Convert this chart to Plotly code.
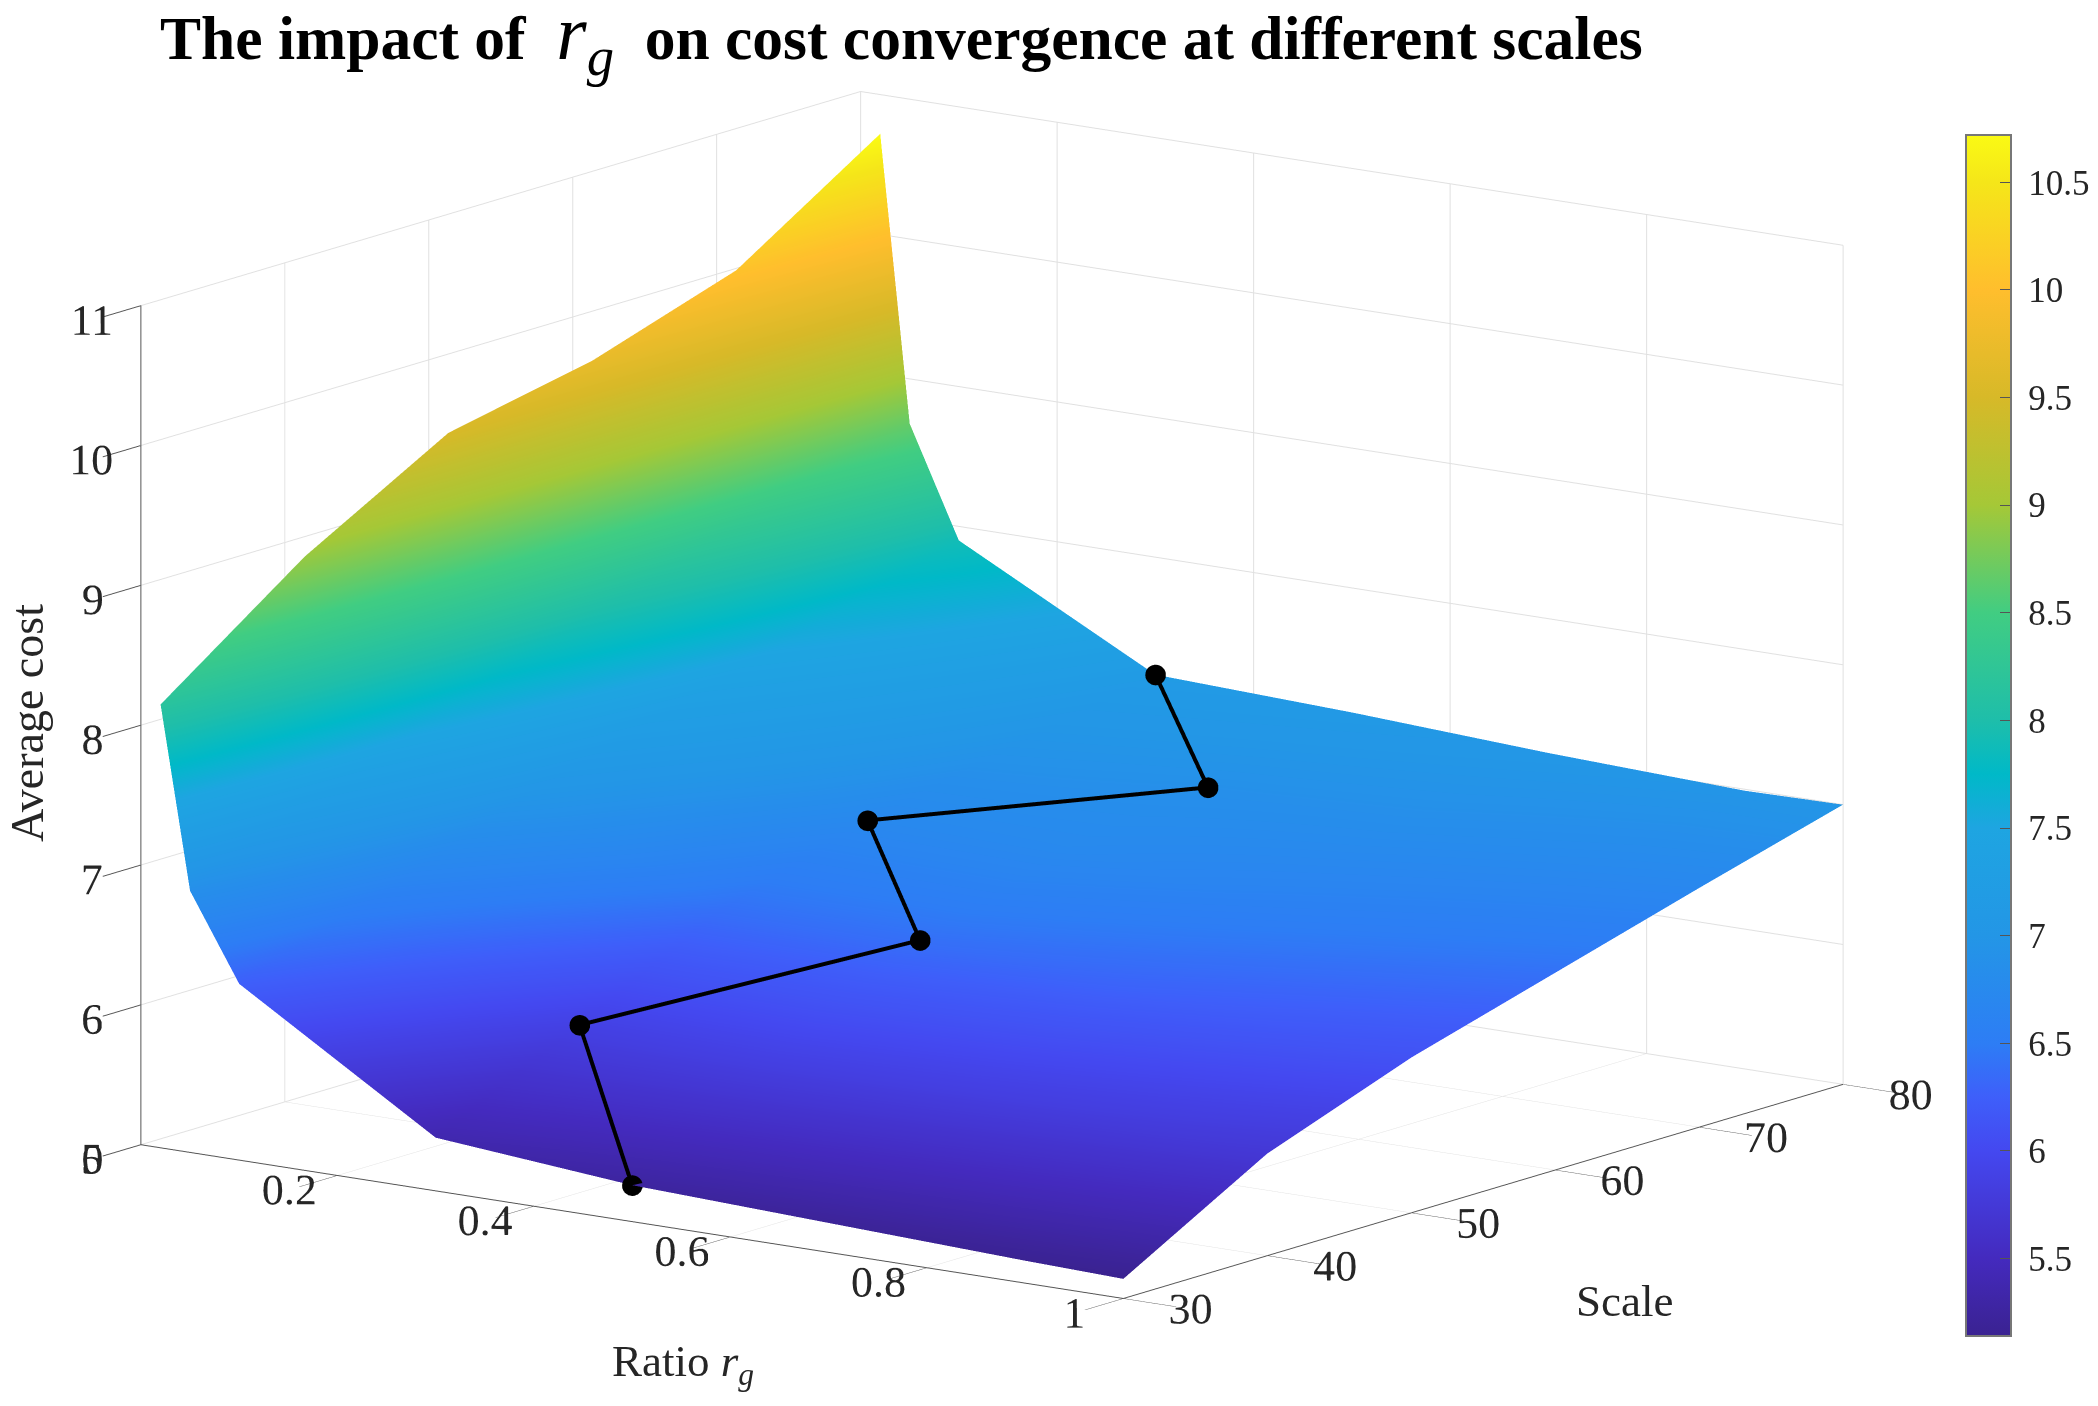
# Average cost surface over ratio r_g and scale
import plotly.graph_objects as go

ratio = [0.02, 0.05, 0.1, 0.3, 0.5, 0.7, 0.9, 1.0]
scale = [30, 40, 50, 60, 70, 80]

# rows follow scale, columns follow ratio
cost = [
    [8.17, 6.87, 6.26, 5.38, 5.26, 5.21, 5.16, 5.14],
    [8.92, 7.30, 6.60, 5.88, 5.90, 5.85, 5.78, 5.73],
    [9.50, 7.70, 7.00, 6.40, 6.39, 6.30, 6.17, 6.11],
    [9.71, 8.05, 7.30, 6.73, 6.75, 6.60, 6.47, 6.41],
    [10.05, 8.40, 7.60, 6.95, 6.88, 6.85, 6.75, 6.71],
    [10.72, 8.68, 7.90, 7.16, 7.11, 7.04, 6.99, 7.00],
]

# best ratio at each scale
best_ratio = [0.5, 0.3, 0.5, 0.3, 0.5, 0.3]
best_scale = [30, 40, 50, 60, 70, 80]
best_cost = [5.26, 5.88, 6.40, 6.73, 6.88, 7.16]

colorbar_ticks = [5.5, 6, 6.5, 7, 7.5, 8, 8.5, 9, 9.5, 10, 10.5]

CMIN, CMAX = 5.14, 10.72

# colours as sampled from the colour bar, by cost level
color_levels = [5.14, 5.5, 6, 6.25, 6.5, 7, 7.5, 7.75, 8, 8.5, 9, 9.5, 10, 10.5, 10.72]
color_values = [
    "rgb(58,34,145)", "rgb(68,42,190)", "rgb(68,72,240)", "rgb(62,95,250)", "rgb(45,125,245)",
    "rgb(35,150,230)", "rgb(30,165,225)", "rgb(0,185,200)", "rgb(30,190,170)", "rgb(65,205,130)",
    "rgb(165,200,55)", "rgb(215,185,40)", "rgb(255,190,45)", "rgb(245,230,25)", "rgb(250,250,20)",
]
colorscale = [[(z - CMIN) / (CMAX - CMIN), c] for z, c in zip(color_levels, color_values)]

W, H = 2098, 1406
SERIF = "Liberation Serif"
TEXT = "#262626"

# view direction, and a small step along it so the path is not buried in the surface
# the point on the front edge stays put, a step would take it out of the axis range
view = (0.573, -0.790, 0.2157)
lift = [0 if s == 30 else 0.035 for s in best_scale]
path_x = [r + view[0] * d for r, d in zip(best_ratio, lift)]
path_y = [s + view[1] * d / 1.01 * 50 for s, d in zip(best_scale, lift)]
path_z = [c + view[2] * d / 0.708 * 6 for c, d in zip(best_cost, lift)]

# an orthographic scene is zoomed through the aspect ratio
ZOOM = 1.853

axis_style = dict(
    showbackground=False,
    showspikes=False,
    zeroline=False,
    showline=True,
    linecolor="#555555",
    linewidth=2,
    gridcolor="#e0e0e0",
    gridwidth=2,
    ticks="outside",
    ticklen=65,
    tickcolor="#555555",
    tickwidth=2,
    tickangle=0,
    tickfont=dict(family=SERIF, size=23, color=TEXT),
    title=dict(text=""),
)

fig = go.Figure()

fig.add_trace(go.Surface(
    x=ratio, y=scale, z=cost,
    colorscale=colorscale,
    cmin=CMIN, cmax=CMAX,
    lighting=dict(ambient=1, diffuse=0, specular=0, roughness=1, fresnel=0),
    hoverinfo="skip",
    colorbar=dict(
        x=1958 / W, xanchor="left",
        y=1 - 127 / H, yanchor="top",
        thickness=45, thicknessmode="pixels",
        len=1201, lenmode="pixels",
        xpad=0, ypad=0,
        tickvals=colorbar_ticks,
        ticktext=[f"\u00a0{t:g}" for t in colorbar_ticks],
        ticks="inside", ticklen=12, tickcolor="#555555",
        outlinecolor="#777777", outlinewidth=2,
        tickfont=dict(family=SERIF, size=35, color=TEXT),
    ),
))

fig.add_trace(go.Scatter3d(
    x=path_x, y=path_y, z=path_z,
    mode="lines+markers",
    line=dict(color="black", width=8),
    marker=dict(color="black", size=12),
    hoverinfo="skip",
    showlegend=False,
))

fig.update_layout(
    width=W, height=H,
    autosize=False,
    paper_bgcolor="white",
    margin=dict(l=0, r=0, t=0, b=0),
    showlegend=False,
    title=dict(
        text="<b>The impact of </b> <span style='font-size:78px'><i>r<sub>g</sub></i></span> <b> on cost convergence at different scales</b>",
        font=dict(family=SERIF, size=61.5, color="black"),
        x=152 / W, xanchor="left",
        y=1 - 29 / H, yanchor="middle",
    ),
    scene=dict(
        domain=dict(x=[0, 1968 / W], y=[1 - 1342 / H, 1 - 32 / H]),
        aspectmode="manual",
        aspectratio=dict(x=1 * ZOOM, y=1.01 * ZOOM, z=0.708 * ZOOM),
        xaxis=dict(axis_style, range=[0, 1], tickvals=[0, 0.2, 0.4, 0.6, 0.8, 1], ticktext=["0", "0.2", "0.4", "0.6", "0.8", "1"]),
        yaxis=dict(axis_style, range=[30, 80], tickvals=[30, 40, 50, 60, 70, 80]),
        zaxis=dict(axis_style, range=[5, 11], tickvals=[5, 6, 7, 8, 9, 10, 11]),
        camera=dict(
            projection=dict(type="orthographic"),
            eye=dict(x=view[0] * 2.2, y=view[1] * 2.2, z=view[2] * 2.2),
            center=dict(x=0, y=0, z=0),
            up=dict(x=0, y=0, z=1),
        ),
    ),
    annotations=[
        dict(text="Ratio <i>r<sub>g</sub></i>", x=675 / W, y=1 - 1356 / H, xref="paper", yref="paper",
             xanchor="center", yanchor="middle",
             showarrow=False, font=dict(family=SERIF, size=45, color=TEXT)),
        dict(text="Scale", x=1616 / W, y=1 - 1293 / H, xref="paper", yref="paper",
             xanchor="center", yanchor="middle",
             showarrow=False, font=dict(family=SERIF, size=45, color=TEXT)),
        dict(text="Average cost", x=19 / W, y=1 - 715 / H, xref="paper", yref="paper", textangle=-90,
             xanchor="center", yanchor="middle",
             showarrow=False, font=dict(family=SERIF, size=46, color=TEXT)),
    ],
)

fig.write_html("out.html")
